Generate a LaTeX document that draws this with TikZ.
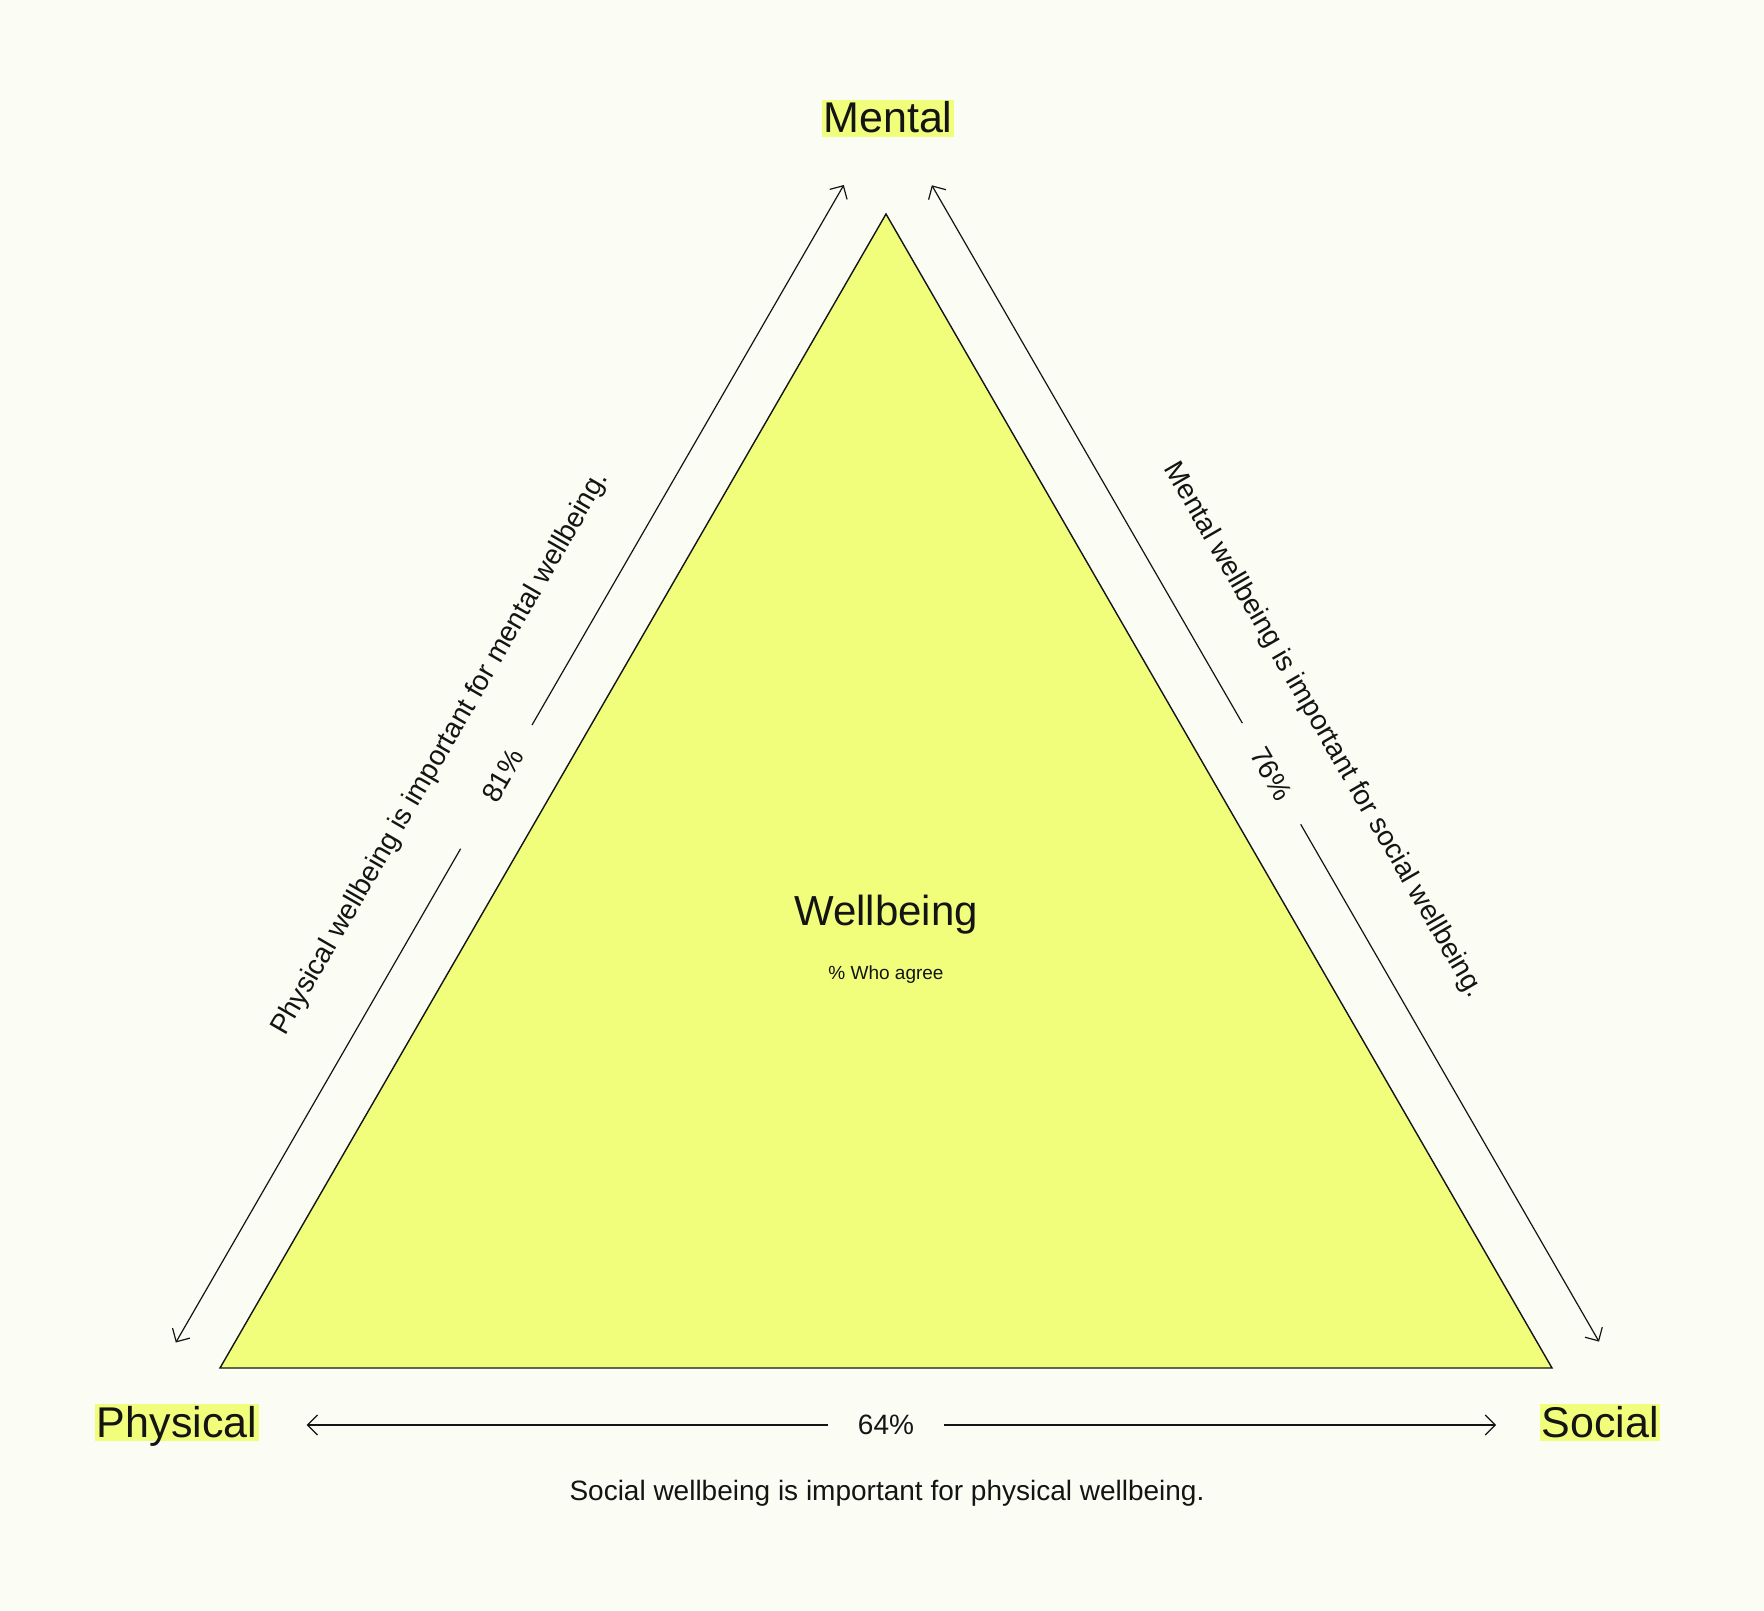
\documentclass[tikz,border=0pt]{standalone}
\usepackage{fontspec}
\setmainfont{Liberation Sans}
\usetikzlibrary{arrows.meta,positioning,calc}
\definecolor{paper}{HTML}{FBFCF4}
\definecolor{lime}{HTML}{F1FE7B}
\definecolor{ink}{HTML}{141414}

\begin{document}
\begin{tikzpicture}[x=0.5pt, y=-0.5pt,
  corner/.style={fill=lime, text=ink, inner xsep=0.8pt, inner ysep=0pt,
                 text height=16.4pt, text depth=2pt, anchor=base,
                 font=\fontsize{21.5}{24}\selectfont},
  pct/.style={text=ink, inner sep=0pt, minimum width=58pt,
              font=\fontsize{14}{16}\selectfont},
  side/.style={text=ink, inner sep=0pt, anchor=base,
               font=\fontsize{14}{16}\selectfont},
  a/.style={draw=ink, -{Straight Barb[length=5pt,width=10pt]}, line width=0.6pt}]

\fill[paper] (0,0) rectangle (1764,1610);
\useasboundingbox (0,0) rectangle (1764,1610);

\coordinate (top) at (886,214);
\coordinate (bl) at (220,1368);
\coordinate (br) at (1552,1368);
\draw[fill=lime, draw=ink, line width=0.7pt] (top) -- (bl) -- (br) -- cycle;

\foreach \n/\x/\y/\t in {mental/888/133/Mental, physical/177/1437/Physical,
                         social/1600/1437/Social} {
  \node[corner] (\n) at (\x,\y) {\t};
}

\node[text=ink, anchor=base, font=\fontsize{21}{24}\selectfont] (wb) at (886,925) {Wellbeing};
\node[text=ink, anchor=base, font=\fontsize{9.5}{11}\selectfont] (agree) at (886,979) {\% Who agree};

\coordinate (mL) at (843.8,185);
\coordinate (pL) at (175.8,1342.5);
\coordinate (mR) at (931.8,185.3);
\coordinate (sR) at (1599,1341.6);
\coordinate (pB) at (306.7,1425);
\coordinate (sB) at (1496,1425);

\node[pct, rotate=60] (p81) at (502.8,775.6) {81\%};
\node[pct, rotate=-60] (p76) at (1271.5,773.7) {76\%};
\node[pct] (p64) at (886,1425) {64\%};

\draw[a] (p81) -- (mL);
\draw[a, shorten <=13pt] (p81) -- (pL);
\draw[a] (p76) -- (mR);
\draw[a] (p76) -- (sR);
\draw[a] (p64) -- (pB);
\draw[a] (p64) -- (sB);

\node[side, rotate=60] (lnote) at (447,757)
      {Physical wellbeing is important for mental wellbeing.};
\node[side, rotate=-60] (rnote) at (1316.9,734.3)
      {Mental wellbeing is important for social wellbeing.};
\node[side] (bnote) at (887,1500)
      {Social wellbeing is important for physical wellbeing.};
\end{tikzpicture}
\end{document}
